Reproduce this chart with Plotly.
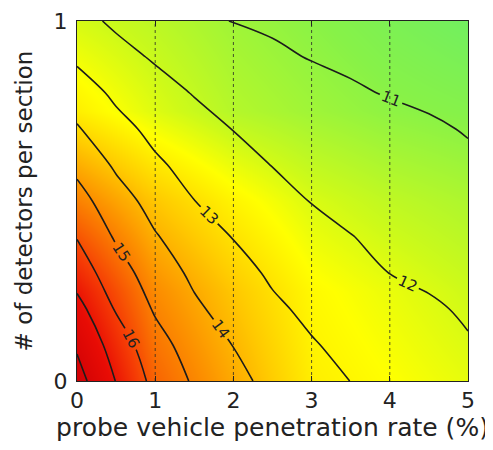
import plotly.graph_objects as go

# grid of the contoured surface (penetration rate %, detectors per section)
x_rate = [0.0, 0.5, 1.0, 1.5, 2.0, 2.5, 3.0, 3.5, 4.0, 4.5, 5.0]
y_detectors = [0.0, 0.1, 0.2, 0.3, 0.4, 0.5, 0.6, 0.7, 0.8, 0.9, 1.0]

# contour value rows, one per y level
z_y00 = [18.36, 16.97, 15.72, 14.88, 14.24, 13.76, 13.37, 12.99, 12.74, 12.50, 12.25]
z_y01 = [17.88, 16.57, 15.34, 14.59, 13.98, 13.52, 13.06, 12.79, 12.55, 12.31, 12.07]
z_y02 = [17.35, 15.91, 14.90, 14.16, 13.62, 13.14, 12.83, 12.60, 12.36, 12.12, 11.89]
z_y03 = [16.54, 15.43, 14.52, 13.81, 13.30, 12.88, 12.58, 12.29, 11.99, 11.84, 11.69]
z_y04 = [15.96, 14.89, 14.07, 13.49, 12.97, 12.65, 12.34, 12.02, 11.84, 11.68, 11.51]
z_y05 = [15.38, 14.41, 13.66, 13.01, 12.65, 12.30, 11.97, 11.81, 11.65, 11.48, 11.32]
z_y06 = [14.75, 13.86, 13.14, 12.70, 12.32, 11.98, 11.82, 11.67, 11.52, 11.36, 11.14]
z_y07 = [14.09, 13.30, 12.76, 12.36, 11.98, 11.81, 11.63, 11.46, 11.28, 11.11, 10.95]
z_y08 = [13.48, 12.82, 12.36, 11.95, 11.74, 11.52, 11.31, 11.10, 10.95, 10.85, 10.75]
z_y09 = [12.83, 12.31, 11.90, 11.65, 11.39, 11.14, 10.96, 10.85, 10.75, 10.65, 10.55]
z_y10 = [12.30, 11.84, 11.53, 11.23, 10.97, 10.87, 10.77, 10.66, 10.56, 10.45, 10.35]

# background shading as seen in the picture (coarser grid, same value scale)
shade_x = [0, 1, 2, 3, 4, 5]
shade_y = [0.0, 0.25, 0.5, 0.75, 1.0]
shade_y000 = [18.3, 15.3, 14.1, 12.9, 12.6, 12.3]
shade_y025 = [16.8, 14.6, 13.6, 12.7, 12.35, 12.0]
shade_y050 = [14.8, 13.6, 12.8, 12.15, 11.8, 11.55]
shade_y075 = [12.9, 12.2, 11.65, 11.35, 11.1, 10.95]
shade_y100 = [12.1, 11.75, 11.35, 11.05, 10.75, 10.5]

x_ticks = [0, 1, 2, 3, 4, 5]
y_ticks = [0, 1]
x_gridlines = [1, 2, 3, 4]

z = [z_y00, z_y01, z_y02, z_y03, z_y04, z_y05, z_y06, z_y07, z_y08, z_y09, z_y10]
shade = [shade_y000, shade_y025, shade_y050, shade_y075, shade_y100]

# colour map: value -> colour
zmin, zmax = 10.3, 18.4
cmap_vals = [10.3, 11.0, 12.0, 12.6, 13.5, 14.5, 16.0, 17.0, 18.4]
cmap_cols = ["rgb(105,238,105)", "rgb(135,242,72)", "rgb(205,250,25)", "rgb(255,255,0)",
             "rgb(255,205,0)", "rgb(252,145,0)", "rgb(245,60,5)", "rgb(232,12,5)", "rgb(205,0,5)"]
colorscale = [[(v - zmin) / (zmax - zmin), c] for v, c in zip(cmap_vals, cmap_cols)]

FONT = "DejaVu Sans"
LINE = "#1c1c1c"

fig = go.Figure()
fig.add_trace(go.Heatmap(x=shade_x, y=shade_y, z=shade, zsmooth="best",
                         colorscale=colorscale, zmin=zmin, zmax=zmax,
                         showscale=False, hoverinfo="skip"))
fig.add_trace(go.Contour(x=x_rate, y=y_detectors, z=z, showscale=False,
                         contours=dict(coloring="lines", start=11, end=17, size=1,
                                       showlabels=True,
                                       labelfont=dict(family=FONT, size=15, color="#222")),
                         line=dict(color=LINE, width=1.6),
                         colorscale=[[0, LINE], [1, LINE]]))
fig.add_trace(go.Contour(x=x_rate, y=y_detectors, z=z, showscale=False,
                         contours=dict(coloring="lines", start=18, end=18, size=1,
                                       showlabels=False),
                         line=dict(color=LINE, width=1.6),
                         colorscale=[[0, LINE], [1, LINE]]))

for v in x_gridlines:
    fig.add_vline(x=v, line=dict(color="rgba(40,40,40,0.8)", width=1, dash="dot"))

axis_common = dict(showline=True, linecolor="#222", linewidth=1, mirror="ticks",
                   ticks="inside", ticklen=5, tickcolor="#222", showgrid=False,
                   zeroline=False, automargin=False,
                   tickfont=dict(family=FONT, size=22, color="#222"))

# the page body adds an 8px offset, so the figure is sized to fit the window
fig.update_layout(
    width=485, height=442,
    margin=dict(l=69, r=25, t=13, b=69),
    paper_bgcolor="white", plot_bgcolor="white",
    font=dict(family=FONT, color="#222"),
    xaxis=dict(range=[0, 5], tickvals=x_ticks,
               title=dict(text="probe vehicle penetration rate (%)",
                          font=dict(family=FONT, size=25, color="#222"), standoff=4),
               **axis_common),
    yaxis=dict(range=[0, 1], tickvals=y_ticks, ticklabelstandoff=4,
               title=dict(text="# of detectors per section",
                          font=dict(family=FONT, size=23, color="#222"), standoff=14),
               **axis_common),
    showlegend=False,
)

fig.write_html("out.html")
